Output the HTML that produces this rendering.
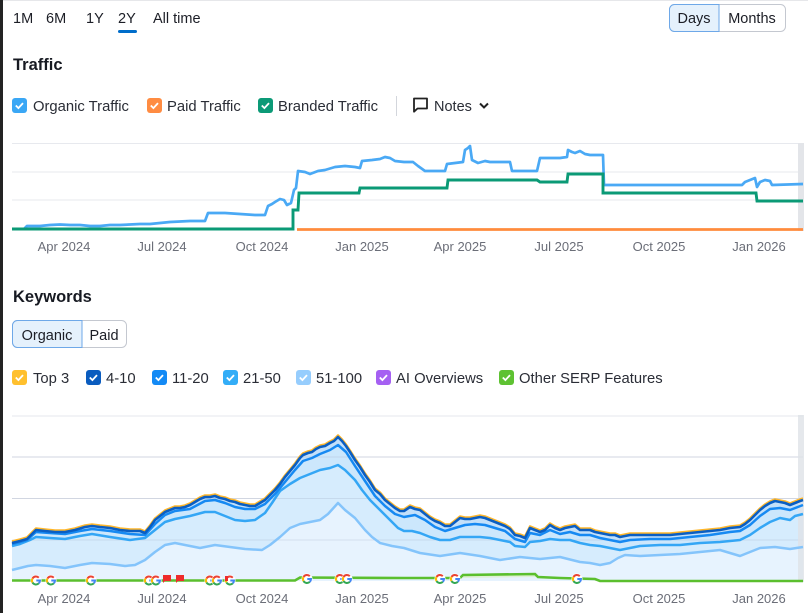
<!DOCTYPE html>
<html><head><meta charset="utf-8"><style>
html,body{margin:0;padding:0;background:#fff;}
svg{display:block;}
text{font-family:"Liberation Sans",Arial,sans-serif;}
</style></head><body>
<svg width="808" height="613" viewBox="0 0 808 613" xmlns="http://www.w3.org/2000/svg">
<rect width="808" height="613" fill="#fff"/>
<rect x="0" y="0" width="808" height="1" fill="#e6e7ea"/>
<rect x="0" y="0" width="3" height="613" fill="#232323"/>

<!-- Top tabs -->
<g font-size="14.5" fill="#1c1e26">
<text x="13" y="23">1M</text>
<text x="46" y="23">6M</text>
<text x="86" y="23">1Y</text>
<text x="118" y="23">2Y</text>
<text x="153" y="23">All time</text>
</g>
<rect x="118" y="30" width="19" height="3" rx="1.5" fill="#006dca"/>

<!-- Days / Months -->
<rect x="669.5" y="4.5" width="116" height="27" rx="5" fill="#fff" stroke="#c4c8d0"/>
<path d="M719,4.5 H674.5 A5,5 0 0 0 669.5,9.5 V26.5 A5,5 0 0 0 674.5,31.5 H719 Z" fill="#e5f1fc" stroke="#6ea8e8"/>
<text x="694" y="23" font-size="14.5" fill="#1c1e26" text-anchor="middle">Days</text>
<text x="752" y="23" font-size="14.5" fill="#1c1e26" text-anchor="middle">Months</text>

<!-- Traffic title -->
<text x="13" y="70" font-size="16.5" font-weight="bold" fill="#171a22">Traffic</text>

<!-- Traffic legend -->
<g font-size="14.8" fill="#2a2d36">
<rect x="12" y="98" width="15" height="15" rx="3" fill="#3aa7f5"/>
<path d="M15.8,105.5 l2.6,2.6 l4.6,-5" stroke="#fff" stroke-width="1.8" fill="none"/>
<text x="33" y="111">Organic Traffic</text>
<rect x="147" y="98" width="15" height="15" rx="3" fill="#ff8c42"/>
<path d="M150.8,105.5 l2.6,2.6 l4.6,-5" stroke="#fff" stroke-width="1.8" fill="none"/>
<text x="167" y="111">Paid Traffic</text>
<rect x="258" y="98" width="15" height="15" rx="3" fill="#0c9a77"/>
<path d="M261.8,105.5 l2.6,2.6 l4.6,-5" stroke="#fff" stroke-width="1.8" fill="none"/>
<text x="278" y="111">Branded Traffic</text>
</g>
<line x1="396.5" y1="96" x2="396.5" y2="116" stroke="#d3d6dc"/>
<path d="M414,98.5 h13 v10 h-9.5 l-3.5,3.2 z" stroke="#222" stroke-width="1.8" fill="none" stroke-linejoin="round"/>
<text x="434" y="111" font-size="14.5" fill="#2a2d36">Notes</text>
<polyline points="480,103.5 484,107.5 488,103.5" stroke="#222" stroke-width="2" fill="none"/>

<!-- Traffic chart -->
<g stroke="#e7e9ee" stroke-width="1">
<line x1="12" y1="143.5" x2="803" y2="143.5"/>
<line x1="12" y1="172" x2="803" y2="172"/>
<line x1="12" y1="200" x2="803" y2="200"/>
</g>
<rect x="798" y="143" width="6" height="88" fill="#e3e5e9"/>
<polyline fill="none" stroke="#4aa9f5" stroke-width="2.7" stroke-linejoin="round" points="12,229 24,229 27,226 40,226 50,225 60,224.5 70,225 80,225 90,226 100,226 110,225 120,225 130,224.5 140,224 150,224 160,223 170,222 180,221.5 190,221 205,221 208,213 215,213 225,213 240,214 255,215 265,215 268,206 272,204 275,202 280,199 284,200 287,205 291,203 294,190 296,188 298,171 305,172 310,174 318,171 325,170 335,167 345,166 355,167 360,168 362,161 372,160 380,159 385,157 390,158 395,161 404,162 413,162 418,166 425,171 445,171 447,164 463,162 465,150 468,148 470,146 472,160 478,163 485,161 490,162 510,162 512,171 537,171 540,158 560,158 567,157 568,150 572,152 575,153 580,151 585,154 590,155 603,155 604,185 742,185 745,182 750,180 755,178 757,187 760,182 765,180 770,181 772,185 803,184"/>
<polyline fill="none" stroke="#0b9a76" stroke-width="2.9" points="12,229 293,229 293,210 298,210 299,193 359,193 360,188 447,188 448,180 537,180 540,182 567,182 568,174 603,174 603,193 756,193 757,201 803,201"/>
<line x1="297" y1="229.5" x2="803" y2="229.5" stroke="#ff8b3d" stroke-width="2.8"/>

<g font-size="13" fill="#6b6e78" text-anchor="middle">
<text x="64" y="251">Apr 2024</text>
<text x="162" y="251">Jul 2024</text>
<text x="262" y="251">Oct 2024</text>
<text x="362" y="251">Jan 2025</text>
<text x="460" y="251">Apr 2025</text>
<text x="559" y="251">Jul 2025</text>
<text x="659" y="251">Oct 2025</text>
<text x="759" y="251">Jan 2026</text>
</g>

<!-- Keywords title -->
<text x="13" y="302" font-size="16.5" font-weight="bold" fill="#171a22">Keywords</text>

<rect x="12.5" y="320.5" width="114" height="27" rx="5" fill="#fff" stroke="#c4c8d0"/>
<path d="M82,320.5 H17.5 A5,5 0 0 0 12.5,325.5 V342.5 A5,5 0 0 0 17.5,347.5 H82 Z" fill="#e5f1fc" stroke="#6ea8e8"/>
<text x="47" y="340" font-size="14.5" fill="#1c1e26" text-anchor="middle">Organic</text>
<text x="104" y="340" font-size="14.5" fill="#1c1e26" text-anchor="middle">Paid</text>

<!-- Keywords legend -->
<g font-size="14.8" fill="#2a2d36">
<rect x="12" y="370" width="15" height="15" rx="3" fill="#ffc02e"/>
<path d="M15.8,377.5 l2.6,2.6 l4.6,-5" stroke="#fff" stroke-width="1.8" fill="none"/>
<text x="33" y="383">Top 3</text>
<rect x="86" y="370" width="15" height="15" rx="3" fill="#0a5cbf"/>
<path d="M89.8,377.5 l2.6,2.6 l4.6,-5" stroke="#fff" stroke-width="1.8" fill="none"/>
<text x="106" y="383">4-10</text>
<rect x="152" y="370" width="15" height="15" rx="3" fill="#138af5"/>
<path d="M155.8,377.5 l2.6,2.6 l4.6,-5" stroke="#fff" stroke-width="1.8" fill="none"/>
<text x="172" y="383">11-20</text>
<rect x="223" y="370" width="15" height="15" rx="3" fill="#33adf7"/>
<path d="M226.8,377.5 l2.6,2.6 l4.6,-5" stroke="#fff" stroke-width="1.8" fill="none"/>
<text x="243" y="383">21-50</text>
<rect x="296" y="370" width="15" height="15" rx="3" fill="#96cdfd"/>
<path d="M299.8,377.5 l2.6,2.6 l4.6,-5" stroke="#fff" stroke-width="1.8" fill="none"/>
<text x="316" y="383">51-100</text>
<rect x="376" y="370" width="15" height="15" rx="3" fill="#a560f2"/>
<path d="M379.8,377.5 l2.6,2.6 l4.6,-5" stroke="#fff" stroke-width="1.8" fill="none"/>
<text x="396" y="383">AI Overviews</text>
<rect x="499" y="370" width="15" height="15" rx="3" fill="#5ec232"/>
<path d="M502.8,377.5 l2.6,2.6 l4.6,-5" stroke="#fff" stroke-width="1.8" fill="none"/>
<text x="519" y="383">Other SERP Features</text>
</g>

<!-- Keywords chart -->
<g stroke="#e5e7ec" stroke-width="1">
<line x1="12" y1="416" x2="803" y2="416"/>
<line x1="12" y1="457" x2="803" y2="457"/>
<line x1="12" y1="498.5" x2="803" y2="498.5"/>
</g>

<path fill="#c3e0fa" d="M12,543 20,541 27,539 32,534 36,530 45,531 55,532 65,532 75,530 85,527 92,526 100,527 110,528 120,530 130,531 140,531 145,533 150,527 155,520 160,516 165,512 170,510 175,508 180,508 185,507 190,505 195,502 200,499 205,497 210,497 215,496 220,498 225,499 230,501 235,502 240,504 245,505 250,506 255,506 260,503 265,500 270,495 275,490 280,484 285,477 290,471 295,465 300,458 303,455 308,453 312,452 316,449 320,447 325,446 330,443 334,441 338,437 342,441 346,446 350,452 355,460 360,467 365,475 370,482 375,490 380,494 385,500 390,504 395,508 400,511 404,511 410,507 415,509 420,510 425,514 430,518 435,521 440,523 445,526 450,526 455,522 460,518 465,519 470,519 475,518 480,517 485,518 490,520 495,522 500,524 505,526 510,529 515,535 520,536 525,538 530,528 535,530 540,532 545,530 550,525 555,528 560,530 565,528 570,527 575,526 580,530 585,530 590,530 595,532 600,533 605,534 610,535 615,535 620,537 625,536 630,535 640,535 650,535 660,535 670,535 680,534 690,533 700,532 710,531 720,530 730,528 740,527 745,524 750,520 755,515 760,510 765,506 770,503 775,501 780,502 785,503 790,505 795,503 800,501 803,500 L803,581 L12,581 Z"/>
<path fill="#cce7fc" d="M12,544 20,542 27,540 36,532 50,533 65,534 80,531 92,529 110,531 130,534 145,535 155,524 165,515 175,511 190,509 205,501 215,500 225,503 235,507 245,509 255,509 265,504 275,494 285,482 295,470 303,461 312,458 320,454 330,450 338,445 346,452 355,466 365,481 375,496 385,506 395,514 404,517 415,515 425,520 435,527 445,531 455,528 465,525 475,524 485,525 495,528 505,531 515,539 525,542 530,533 540,535 550,530 560,534 570,532 580,535 590,535 600,538 610,540 620,542 630,540 650,539 670,539 690,537 710,535 730,532 740,531 750,525 760,516 770,509 780,508 790,510 803,505 L803,581 L12,581 Z"/>
<path fill="#d6ecfd" d="M12,546 20,544 30,540 36,537 50,538 65,539 80,536 92,534 110,537 130,540 145,538 155,530 165,522 175,519 190,516 205,512 215,512 225,516 235,520 245,521 255,520 265,513 272,503 280,491 290,484 300,478 310,474 320,470 330,468 338,465 345,470 355,480 362,490 370,500 380,510 390,520 398,528 404,531 412,531 420,533 430,537 440,540 450,540 460,537 470,537 480,537 490,538 500,540 510,542 515,546 525,547 530,542 540,541 550,539 560,540 570,540 580,543 590,545 600,546 610,548 620,550 630,548 640,546 660,545 680,545 700,543 720,542 740,540 750,535 760,528 770,522 780,518 790,520 795,516 803,514 L803,581 L12,581 Z"/>
<path fill="#e7f3fe" d="M12,570 20,568 28,566 36,565 50,566 65,568 80,565 92,563 110,564 125,566 135,565 145,560 155,552 165,545 175,543 190,546 200,548 215,545 230,547 245,549 262,550 270,545 280,537 290,528 300,524 310,522 320,520 328,514 338,503 345,510 355,518 365,530 372,537 380,543 392,546 404,548 420,553 440,556 460,553 480,556 500,560 520,557 540,559 560,557 580,562 590,563 600,565 610,563 618,558 625,555 640,556 660,555 680,554 700,552 720,550 730,553 740,556 750,552 760,548 775,547 790,549 803,547 L803,581 L12,581 Z"/>

<g stroke="rgba(150,165,190,0.25)" stroke-width="1">
<line x1="12" y1="457" x2="803" y2="457"/>
<line x1="12" y1="498.5" x2="803" y2="498.5"/>
<line x1="12" y1="540" x2="803" y2="540"/>
</g>
<rect x="798" y="415" width="6" height="167" fill="#dfe2e7" opacity="0.8"/>

<polyline fill="none" stroke="#84c4fb" stroke-width="2.5" stroke-linejoin="round" points="12,570 20,568 28,566 36,565 50,566 65,568 80,565 92,563 110,564 125,566 135,565 145,560 155,552 165,545 175,543 190,546 200,548 215,545 230,547 245,549 262,550 270,545 280,537 290,528 300,524 310,522 320,520 328,514 338,503 345,510 355,518 365,530 372,537 380,543 392,546 404,548 420,553 440,556 460,553 480,556 500,560 520,557 540,559 560,557 580,562 590,563 600,565 610,563 618,558 625,555 640,556 660,555 680,554 700,552 720,550 730,553 740,556 750,552 760,548 775,547 790,549 803,547"/>
<polyline fill="none" stroke="#34a6f5" stroke-width="2.5" stroke-linejoin="round" points="12,546 20,544 30,540 36,537 50,538 65,539 80,536 92,534 110,537 130,540 145,538 155,530 165,522 175,519 190,516 205,512 215,512 225,516 235,520 245,521 255,520 265,513 272,503 280,491 290,484 300,478 310,474 320,470 330,468 338,465 345,470 355,480 362,490 370,500 380,510 390,520 398,528 404,531 412,531 420,533 430,537 440,540 450,540 460,537 470,537 480,537 490,538 500,540 510,542 515,546 525,547 530,542 540,541 550,539 560,540 570,540 580,543 590,545 600,546 610,548 620,550 630,548 640,546 660,545 680,545 700,543 720,542 740,540 750,535 760,528 770,522 780,518 790,520 795,516 803,514"/>
<polyline fill="none" stroke="#1689f2" stroke-width="2.5" stroke-linejoin="round" points="12,544 20,542 27,540 36,532 50,533 65,534 80,531 92,529 110,531 130,534 145,535 155,524 165,515 175,511 190,509 205,501 215,500 225,503 235,507 245,509 255,509 265,504 275,494 285,482 295,470 303,461 312,458 320,454 330,450 338,445 346,452 355,466 365,481 375,496 385,506 395,514 404,517 415,515 425,520 435,527 445,531 455,528 465,525 475,524 485,525 495,528 505,531 515,539 525,542 530,533 540,535 550,530 560,534 570,532 580,535 590,535 600,538 610,540 620,542 630,540 650,539 670,539 690,537 710,535 730,532 740,531 750,525 760,516 770,509 780,508 790,510 803,505"/>
<polyline transform="translate(0,-1.7)" fill="none" stroke="#ffb72b" stroke-width="2.2" stroke-linejoin="round" points="12,543 20,541 27,539 32,534 36,530 45,531 55,532 65,532 75,530 85,527 92,526 100,527 110,528 120,530 130,531 140,531 145,533 150,527 155,520 160,516 165,512 170,510 175,508 180,508 185,507 190,505 195,502 200,499 205,497 210,497 215,496 220,498 225,499 230,501 235,502 240,504 245,505 250,506 255,506 260,503 265,500 270,495 275,490 280,484 285,477 290,471 295,465 300,458 303,455 308,453 312,452 316,449 320,447 325,446 330,443 334,441 338,437 342,441 346,446 350,452 355,460 360,467 365,475 370,482 375,490 380,494 385,500 390,504 395,508 400,511 404,511 410,507 415,509 420,510 425,514 430,518 435,521 440,523 445,526 450,526 455,522 460,518 465,519 470,519 475,518 480,517 485,518 490,520 495,522 500,524 505,526 510,529 515,535 520,536 525,538 530,528 535,530 540,532 545,530 550,525 555,528 560,530 565,528 570,527 575,526 580,530 585,530 590,530 595,532 600,533 605,534 610,535 615,535 620,537 625,536 630,535 640,535 650,535 660,535 670,535 680,534 690,533 700,532 710,531 720,530 730,528 740,527 745,524 750,520 755,515 760,510 765,506 770,503 775,501 780,502 785,503 790,505 795,503 800,501 803,500"/>
<polyline fill="none" stroke="#0a5ec3" stroke-width="2.6" stroke-linejoin="round" points="12,543 20,541 27,539 32,534 36,530 45,531 55,532 65,532 75,530 85,527 92,526 100,527 110,528 120,530 130,531 140,531 145,533 150,527 155,520 160,516 165,512 170,510 175,508 180,508 185,507 190,505 195,502 200,499 205,497 210,497 215,496 220,498 225,499 230,501 235,502 240,504 245,505 250,506 255,506 260,503 265,500 270,495 275,490 280,484 285,477 290,471 295,465 300,458 303,455 308,453 312,452 316,449 320,447 325,446 330,443 334,441 338,437 342,441 346,446 350,452 355,460 360,467 365,475 370,482 375,490 380,494 385,500 390,504 395,508 400,511 404,511 410,507 415,509 420,510 425,514 430,518 435,521 440,523 445,526 450,526 455,522 460,518 465,519 470,519 475,518 480,517 485,518 490,520 495,522 500,524 505,526 510,529 515,535 520,536 525,538 530,528 535,530 540,532 545,530 550,525 555,528 560,530 565,528 570,527 575,526 580,530 585,530 590,530 595,532 600,533 605,534 610,535 615,535 620,537 625,536 630,535 640,535 650,535 660,535 670,535 680,534 690,533 700,532 710,531 720,530 730,528 740,527 745,524 750,520 755,515 760,510 765,506 770,503 775,501 780,502 785,503 790,505 795,503 800,501 803,500"/>

<!-- Other SERP -->
<path d="M463,575 535,574 538,577 463,578 Z" fill="#dff0d5"/>
<polyline fill="none" stroke="#5bbf2e" stroke-width="2.6" points="12,580.5 295,580.5 300,577.5 404,578 460,578 463,575 535,574 538,577 560,578 595,579 600,581 803,581"/>

<!-- Google icons -->
<g stroke-width="2" fill="none" stroke-linecap="butt">
<g transform="translate(36,580.5)"><circle r="5.5" fill="#fff" stroke="none"/><path d="M2.8,-2.8 A4,4 0 0 0 -3.5,-2" stroke="#ea4335"/><path d="M-3.5,-2 A4,4 0 0 0 -3.5,2" stroke="#fbbc05"/><path d="M-3.5,2 A4,4 0 0 0 2.8,2.8" stroke="#34a853"/><path d="M2.8,2.8 A4,4 0 0 0 4,0 H0.3" stroke="#4285f4"/></g>
<g transform="translate(51,580.5)"><circle r="5.5" fill="#fff" stroke="none"/><path d="M2.8,-2.8 A4,4 0 0 0 -3.5,-2" stroke="#ea4335"/><path d="M-3.5,-2 A4,4 0 0 0 -3.5,2" stroke="#fbbc05"/><path d="M-3.5,2 A4,4 0 0 0 2.8,2.8" stroke="#34a853"/><path d="M2.8,2.8 A4,4 0 0 0 4,0 H0.3" stroke="#4285f4"/></g>
<g transform="translate(91,580.5)"><circle r="5.5" fill="#fff" stroke="none"/><path d="M2.8,-2.8 A4,4 0 0 0 -3.5,-2" stroke="#ea4335"/><path d="M-3.5,-2 A4,4 0 0 0 -3.5,2" stroke="#fbbc05"/><path d="M-3.5,2 A4,4 0 0 0 2.8,2.8" stroke="#34a853"/><path d="M2.8,2.8 A4,4 0 0 0 4,0 H0.3" stroke="#4285f4"/></g>
<g transform="translate(149,580.5)"><circle r="5.5" fill="#fff" stroke="none"/><path d="M2.8,-2.8 A4,4 0 0 0 -3.5,-2" stroke="#ea4335"/><path d="M-3.5,-2 A4,4 0 0 0 -3.5,2" stroke="#fbbc05"/><path d="M-3.5,2 A4,4 0 0 0 2.8,2.8" stroke="#34a853"/><path d="M2.8,2.8 A4,4 0 0 0 4,0 H0.3" stroke="#4285f4"/></g>
<g transform="translate(156,580.5)"><circle r="5.5" fill="#fff" stroke="none"/><path d="M2.8,-2.8 A4,4 0 0 0 -3.5,-2" stroke="#ea4335"/><path d="M-3.5,-2 A4,4 0 0 0 -3.5,2" stroke="#fbbc05"/><path d="M-3.5,2 A4,4 0 0 0 2.8,2.8" stroke="#34a853"/><path d="M2.8,2.8 A4,4 0 0 0 4,0 H0.3" stroke="#4285f4"/></g>
<g transform="translate(210,580.5)"><circle r="5.5" fill="#fff" stroke="none"/><path d="M2.8,-2.8 A4,4 0 0 0 -3.5,-2" stroke="#ea4335"/><path d="M-3.5,-2 A4,4 0 0 0 -3.5,2" stroke="#fbbc05"/><path d="M-3.5,2 A4,4 0 0 0 2.8,2.8" stroke="#34a853"/><path d="M2.8,2.8 A4,4 0 0 0 4,0 H0.3" stroke="#4285f4"/></g>
<g transform="translate(217,580.5)"><circle r="5.5" fill="#fff" stroke="none"/><path d="M2.8,-2.8 A4,4 0 0 0 -3.5,-2" stroke="#ea4335"/><path d="M-3.5,-2 A4,4 0 0 0 -3.5,2" stroke="#fbbc05"/><path d="M-3.5,2 A4,4 0 0 0 2.8,2.8" stroke="#34a853"/><path d="M2.8,2.8 A4,4 0 0 0 4,0 H0.3" stroke="#4285f4"/></g>
<g transform="translate(230,580.5)"><circle r="5.5" fill="#fff" stroke="none"/><path d="M2.8,-2.8 A4,4 0 0 0 -3.5,-2" stroke="#ea4335"/><path d="M-3.5,-2 A4,4 0 0 0 -3.5,2" stroke="#fbbc05"/><path d="M-3.5,2 A4,4 0 0 0 2.8,2.8" stroke="#34a853"/><path d="M2.8,2.8 A4,4 0 0 0 4,0 H0.3" stroke="#4285f4"/></g>
<g transform="translate(307,579)"><circle r="5.5" fill="#fff" stroke="none"/><path d="M2.8,-2.8 A4,4 0 0 0 -3.5,-2" stroke="#ea4335"/><path d="M-3.5,-2 A4,4 0 0 0 -3.5,2" stroke="#fbbc05"/><path d="M-3.5,2 A4,4 0 0 0 2.8,2.8" stroke="#34a853"/><path d="M2.8,2.8 A4,4 0 0 0 4,0 H0.3" stroke="#4285f4"/></g>
<g transform="translate(340,579)"><circle r="5.5" fill="#fff" stroke="none"/><path d="M2.8,-2.8 A4,4 0 0 0 -3.5,-2" stroke="#ea4335"/><path d="M-3.5,-2 A4,4 0 0 0 -3.5,2" stroke="#fbbc05"/><path d="M-3.5,2 A4,4 0 0 0 2.8,2.8" stroke="#34a853"/><path d="M2.8,2.8 A4,4 0 0 0 4,0 H0.3" stroke="#4285f4"/></g>
<g transform="translate(347,579)"><circle r="5.5" fill="#fff" stroke="none"/><path d="M2.8,-2.8 A4,4 0 0 0 -3.5,-2" stroke="#ea4335"/><path d="M-3.5,-2 A4,4 0 0 0 -3.5,2" stroke="#fbbc05"/><path d="M-3.5,2 A4,4 0 0 0 2.8,2.8" stroke="#34a853"/><path d="M2.8,2.8 A4,4 0 0 0 4,0 H0.3" stroke="#4285f4"/></g>
<g transform="translate(440,579)"><circle r="5.5" fill="#fff" stroke="none"/><path d="M2.8,-2.8 A4,4 0 0 0 -3.5,-2" stroke="#ea4335"/><path d="M-3.5,-2 A4,4 0 0 0 -3.5,2" stroke="#fbbc05"/><path d="M-3.5,2 A4,4 0 0 0 2.8,2.8" stroke="#34a853"/><path d="M2.8,2.8 A4,4 0 0 0 4,0 H0.3" stroke="#4285f4"/></g>
<g transform="translate(455,579)"><circle r="5.5" fill="#fff" stroke="none"/><path d="M2.8,-2.8 A4,4 0 0 0 -3.5,-2" stroke="#ea4335"/><path d="M-3.5,-2 A4,4 0 0 0 -3.5,2" stroke="#fbbc05"/><path d="M-3.5,2 A4,4 0 0 0 2.8,2.8" stroke="#34a853"/><path d="M2.8,2.8 A4,4 0 0 0 4,0 H0.3" stroke="#4285f4"/></g>
<g transform="translate(577,579)"><circle r="5.5" fill="#fff" stroke="none"/><path d="M2.8,-2.8 A4,4 0 0 0 -3.5,-2" stroke="#ea4335"/><path d="M-3.5,-2 A4,4 0 0 0 -3.5,2" stroke="#fbbc05"/><path d="M-3.5,2 A4,4 0 0 0 2.8,2.8" stroke="#34a853"/><path d="M2.8,2.8 A4,4 0 0 0 4,0 H0.3" stroke="#4285f4"/></g>
</g>
<!-- red flags -->
<path d="M163,575 h8 v6 h-6 l-2,2 z" fill="#ee2b2b"/>
<path d="M176,575 h8 v6 h-6 l-2,2 z" fill="#ee2b2b"/>
<path d="M225,576 h3 v5 h-3 z" fill="#ee2b2b"/>

<g font-size="13" fill="#6b6e78" text-anchor="middle">
<text x="64" y="603">Apr 2024</text>
<text x="162" y="603">Jul 2024</text>
<text x="262" y="603">Oct 2024</text>
<text x="362" y="603">Jan 2025</text>
<text x="460" y="603">Apr 2025</text>
<text x="559" y="603">Jul 2025</text>
<text x="659" y="603">Oct 2025</text>
<text x="759" y="603">Jan 2026</text>
</g>
</svg>
</body></html>
